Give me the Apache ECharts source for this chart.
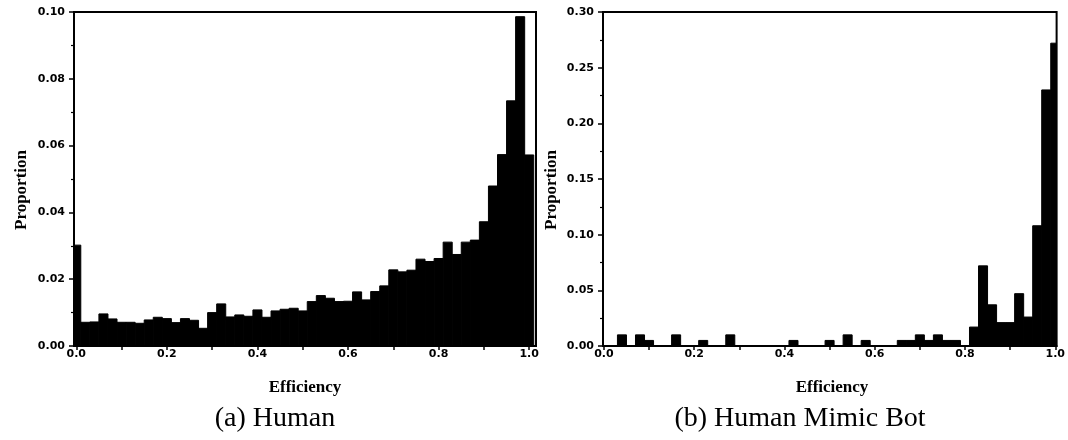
<!DOCTYPE html>
<html>
<head>
<meta charset="utf-8">
<script src="https://cdn.jsdelivr.net/npm/echarts@6.0.0/dist/echarts.min.js"></script>
<style>
  html, body { margin: 0; padding: 0; background: #fff; }
  #main { width: 1068px; height: 440px; }
</style>
</head>
<body>
<div id="main"></div>
<script>
// 直方图的分箱中心 (Efficiency)
var binCenters = [0.00, 0.02, 0.04, 0.06, 0.08, 0.10, 0.12, 0.14, 0.16, 0.18,
	0.20, 0.22, 0.24, 0.26, 0.28, 0.30, 0.32, 0.34, 0.36, 0.38,
	0.40, 0.42, 0.44, 0.46, 0.48, 0.50, 0.52, 0.54, 0.56, 0.58,
	0.60, 0.62, 0.64, 0.66, 0.68, 0.70, 0.72, 0.74, 0.76, 0.78,
	0.80, 0.82, 0.84, 0.86, 0.88, 0.90, 0.92, 0.94, 0.96, 0.98, 1.00];

// (a) Human
var humanProp = [0.0302, 0.0071, 0.0072, 0.0096, 0.0081, 0.0071, 0.0071, 0.0068, 0.0078, 0.0086,
	0.0082, 0.0070, 0.0082, 0.0077, 0.0053, 0.0100, 0.0126, 0.0087, 0.0093, 0.0089,
	0.0108, 0.0086, 0.0105, 0.0110, 0.0113, 0.0105, 0.0133, 0.0151, 0.0143, 0.0133,
	0.0134, 0.0162, 0.0138, 0.0163, 0.0180, 0.0228, 0.0222, 0.0227, 0.0260, 0.0253,
	0.0262, 0.0311, 0.0274, 0.0311, 0.0317, 0.0372, 0.0479, 0.0573, 0.0734, 0.0986, 0.0572];

// (b) Human Mimic Bot
var botProp = [0, 0, 0.010, 0, 0.010, 0.005, 0, 0, 0.010, 0,
	0, 0.005, 0, 0, 0.010, 0, 0, 0, 0, 0,
	0, 0.005, 0, 0, 0, 0.005, 0, 0.010, 0, 0.005,
	0, 0, 0, 0.005, 0.005, 0.010, 0.005, 0.010, 0.005, 0.005,
	0, 0.017, 0.072, 0.037, 0.021, 0.021, 0.047, 0.026, 0.108, 0.230, 0.272];

// 刻度
var xTickValues = [0, 0.1, 0.2, 0.3, 0.4, 0.5, 0.6, 0.7, 0.8, 0.9, 1.0];
var xLabelValues = [0, 0.2, 0.4, 0.6, 0.8, 1.0];

var BIN_WIDTH = 0.02;
var labelFont = { color: '#000', fontFamily: 'DejaVu Sans', fontWeight: 'bold', fontSize: 11 };

var pairs = function(xs, ys) {
	var res = [];
	for (var i = 0; i < xs.length; i++) {
		res.push([xs[i], ys[i]]);
	}
	return res;
};

// 矩形柱
var renderBar = function(params, api) {
	var x = api.value(0);
	var y = api.value(1);
	if (!y) {
		return;
	}
	var p0 = api.coord([x - BIN_WIDTH / 2, y]);
	var p1 = api.coord([x + BIN_WIDTH / 2, 0]);
	return {
		type : 'rect',
		shape : { x : p0[0], y : p0[1], width : p1[0] - p0[0], height : p1[1] - p0[1] },
		style : { fill : '#000', stroke : '#000', lineWidth : 1 }
	};
};

var makeX = function(idx, min, max) {
	return {
		gridIndex : idx, type : 'value', min : min, max : max,
		axisLine : { show : true, onZero : false, lineStyle : { color : '#000', width : 2 } },
		axisTick : { show : true, customValues : xTickValues, length : 4, lineStyle : { color : '#000', width : 1.5 } },
		axisLabel : Object.assign({ customValues : xLabelValues, margin : 3,
			formatter : function(v) { return v.toFixed(1); } }, labelFont),
		splitLine : { show : false }
	};
};

var makeY = function(idx, max, interval) {
	return {
		gridIndex : idx, type : 'value', min : 0, max : max, interval : interval,
		axisLine : { show : true, onZero : false, lineStyle : { color : '#000', width : 2 } },
		axisTick : { show : true, length : 5, lineStyle : { color : '#000', width : 1.5 } },
		minorTick : { show : true, splitNumber : 2, length : 3, lineStyle : { color : '#000', width : 1.2 } },
		axisLabel : Object.assign({ margin : 9,
			formatter : function(v) { return v.toFixed(2); } }, labelFont),
		splitLine : { show : false },
		minorSplitLine : { show : false }
	};
};

var textEl = function(x, y, text, font, rotation) {
	return {
		type : 'text', x : x, y : y, rotation : rotation || 0,
		style : { text : text, font : font, fill : '#000', align : 'center', verticalAlign : 'middle' }
	};
};

var myChart = echarts.init(document.getElementById('main'), null, { renderer : 'canvas' });
var option = {
	backgroundColor : '#fff',
	animation : false,
	grid : [
		{ left : 74, top : 12, width : 462, height : 334, show : true, borderColor : '#000', borderWidth : 2 },
		{ left : 603, top : 12, width : 457, height : 334, show : true, borderColor : '#000', borderWidth : 2 }
	],
	xAxis : [ makeX(0, -0.005, 1.015), makeX(1, -0.002, 1.003) ],
	yAxis : [ makeY(0, 0.1, 0.02), makeY(1, 0.3, 0.05) ],
	series : [
		{ type : 'custom', xAxisIndex : 0, yAxisIndex : 0, clip : true,
			encode : { x : 0, y : 1 }, data : pairs(binCenters, humanProp), renderItem : renderBar },
		{ type : 'custom', xAxisIndex : 1, yAxisIndex : 1, clip : true,
			encode : { x : 0, y : 1 }, data : pairs(binCenters, botProp), renderItem : renderBar }
	],
	graphic : [
		textEl(22, 190, 'Proportion', 'bold 17px "Liberation Serif"', Math.PI / 2),
		textEl(552, 190, 'Proportion', 'bold 17px "Liberation Serif"', Math.PI / 2),
		textEl(305, 388, 'Efficiency', 'bold 17px "Liberation Serif"'),
		textEl(832, 388, 'Efficiency', 'bold 17px "Liberation Serif"'),
		textEl(275, 419, '(a) Human', '28px "Liberation Serif"'),
		textEl(800, 419, '(b) Human Mimic Bot', '28px "Liberation Serif"')
	]
};
myChart.setOption(option);
</script>
</body>
</html>
